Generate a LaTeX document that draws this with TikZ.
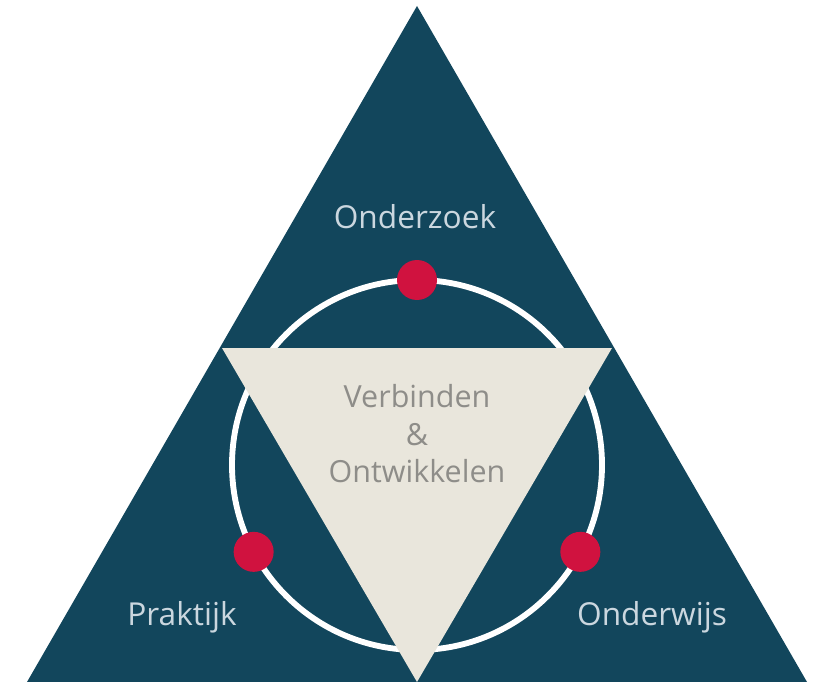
\documentclass[tikz,border=0pt]{standalone}
\usepackage{fontspec}
\setmainfont{Open Sans}
\definecolor{petrol}{HTML}{12465C}
\definecolor{zand}{HTML}{E9E6DC}
\definecolor{rood}{HTML}{D0123F}
\definecolor{licht}{HTML}{CBD7DF}
\definecolor{grijs}{HTML}{8E8D89}
\tikzset{
  hoek/.style = {font=\fontsize{27}{32}\selectfont, text=licht},
  midden/.style = {font=\fontsize{26}{34}\selectfont, text=grijs, align=center},
  punt/.style = {fill=rood, draw=none}
}

\begin{document}
\begin{tikzpicture} [x = 0.03cm, y = -0.03cm]
\useasboundingbox (0, 0) rectangle (821, 682);
\coordinate (top) at (417.0, 6.0);
\coordinate (links) at (27.0, 682.0);
\coordinate (rechts) at (807.0, 682.0);
\coordinate (mid) at (417.0, 465.0);
\fill[petrol] (top) -- (links) -- (rechts) -- cycle;
\draw[white, line width = 5pt] (mid) circle [radius = 185.0];
\fill[zand] (222.0, 348.0) -- (612.0, 348.0) -- (417.0, 682.0) -- cycle;
\fill[punt] (mid) ++(270:185.0) circle [radius = 20.0];
\fill[punt] (mid) ++(152:185.0) circle [radius = 20.0];
\fill[punt] (mid) ++(28:185.0) circle [radius = 20.0];
\node[hoek] (onderzoek) at (415.0, 217.0){Onderzoek};
\node[hoek] (praktijk) at (182.0, 617.0){Praktijk};
\node[hoek] (onderwijs) at (652.0, 617.0){Onderwijs};
\node[midden] (verbinden) at (417.0, 434.0){Verbinden\\[-2pt]\&\\[-2pt]Ontwikkelen};
\end{tikzpicture}
\end{document}
